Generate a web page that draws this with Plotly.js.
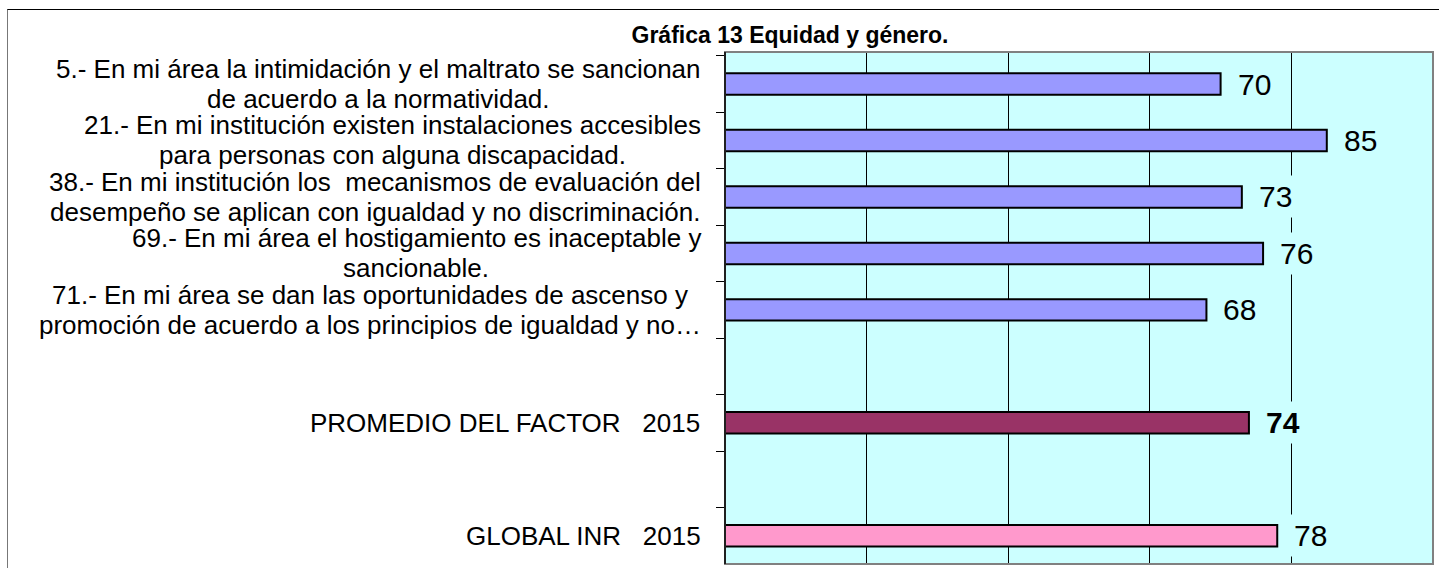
<!DOCTYPE html>
<html>
<head>
<meta charset="utf-8">
<script src="https://cdn.plot.ly/plotly-3.0.1.min.js"></script>
<style>
  html, body { margin: 0; padding: 0; overflow: hidden; background: #fff; }
  #chart { position: absolute; left: 0; top: 0; width: 1439px; height: 568px; }
  #frame { position: absolute; left: 7px; top: 9px; width: 1600px; height: 800px;
           border-top: 1px solid #000; border-left: 1px solid #777; pointer-events: none; }
</style>
</head>
<body>
<div id="chart"></div>
<div id="frame"></div>
<script>
// ---- data ----
const categories = ["q5", "q21", "q38", "q69", "q71", "gap1", "promedio", "gap2", "global"];
const labelLines = [
  ["5.- En mi área la intimidación y el maltrato se sancionan", "de acuerdo a la normatividad."],
  ["21.- En mi institución existen instalaciones accesibles", "para personas con alguna discapacidad."],
  ["38.- En mi institución los \u00a0mecanismos de evaluación del", "desempeño se aplican con igualdad y no discriminación."],
  ["69.- En mi área el hostigamiento es inaceptable y", "sancionable."],
  ["71.- En mi área se dan las oportunidades de ascenso y", "promoción de acuerdo a los principios de igualdad y no…"],
  [],
  ["PROMEDIO DEL FACTOR \u00a0\u00a02015"],
  [],
  ["GLOBAL INR \u00a0\u00a02015"]
];
const values = [70, 85, 73, 76, 68, null, 74, null, 78];
const valueLabels = ["70", "85", "73", "76", "68", "", "<b>74</b>", "", "78"];
const barColors = ["#9999FF", "#9999FF", "#9999FF", "#9999FF", "#9999FF", "#9999FF", "#993366", "#9999FF", "#FF99CC"];
const titleText = "<b>Gráfica 13 Equidad y género.</b>";

// ---- layout constants ----
const FONT = "Liberation Sans, Arial, sans-serif";
const W = 1439, H = 568;
const M = { l: 725, r: 6, t: 52, b: 4 };
const plotW = W - M.l - M.r;
const LABEL_SIZE = 26, LINE_GAP = 30, LABEL_RIGHT = 701;

const ctx = document.createElement("canvas").getContext("2d");
ctx.font = LABEL_SIZE + "px 'Liberation Sans'";

const trace = {
  type: "bar",
  orientation: "h",
  y: categories,
  x: values,
  width: 0.38,
  marker: { color: barColors, line: { color: "#000", width: 2 } },
  hoverinfo: "none",
  cliponaxis: false
};

const annotations = [];
categories.forEach((c, i) => {
  const lines = labelLines[i];
  if (lines.length) {
    const maxW = Math.max(...lines.map(s => ctx.measureText(s).width));
    const centerPx = LABEL_RIGHT - maxW / 2;
    lines.forEach((s, j) => {
      annotations.push({
        xref: "paper", yref: "y", x: (centerPx - M.l) / plotW, y: c,
        xanchor: "center", yanchor: "middle", align: "center",
        yshift: ((lines.length - 1) / 2 - j) * LINE_GAP,
        text: s, showarrow: false,
        font: { family: FONT, size: LABEL_SIZE, color: "#000" }
      });
    });
  }
  if (values[i] !== null) {
    annotations.push({
      xref: "x", yref: "y", x: values[i], y: c,
      xanchor: "left", yanchor: "middle", xshift: 12,
      text: valueLabels[i], showarrow: false,
      bgcolor: "#CCFFFF", borderpad: 4,
      font: { family: FONT, size: 30, color: "#000" }
    });
  }
});

const layout = {
  width: W, height: H,
  margin: { l: M.l, r: M.r, t: M.t, b: M.b, pad: 0 },
  paper_bgcolor: "#FFFFFF",
  plot_bgcolor: "#CCFFFF",
  showlegend: false,
  title: {
    text: titleText, xref: "container", yref: "container",
    x: 0.549, xanchor: "center", y: 0.938, yanchor: "middle",
    font: { family: FONT, size: 23, color: "#000" }
  },
  xaxis: {
    range: [0, 100], dtick: 20, tick0: 0,
    showgrid: true, gridcolor: "#000", gridwidth: 1,
    zeroline: false, showticklabels: false, ticks: "", showline: false,
    fixedrange: true
  },
  yaxis: {
    type: "category", autorange: "reversed",
    showline: true, linecolor: "#000", linewidth: 1.5,
    ticks: "outside", ticklen: 8, tickcolor: "#000", tickwidth: 1,
    tickson: "boundaries", showticklabels: false, showgrid: false,
    zeroline: false, fixedrange: true
  },
  shapes: [{
    type: "rect", xref: "paper", yref: "paper", x0: 0, x1: 1, y0: 0, y1: 1,
    line: { color: "#808080", width: 2 }, fillcolor: "rgba(0,0,0,0)", layer: "above"
  }, {
    type: "line", xref: "paper", yref: "paper", x0: 0, x1: 0, y0: 0, y1: 1,
    line: { color: "#000", width: 1.5 }, layer: "above"
  }],
  annotations: annotations
};

Plotly.newPlot("chart", [trace], layout, { displayModeBar: false, staticPlot: true });
</script>
</body>
</html>
